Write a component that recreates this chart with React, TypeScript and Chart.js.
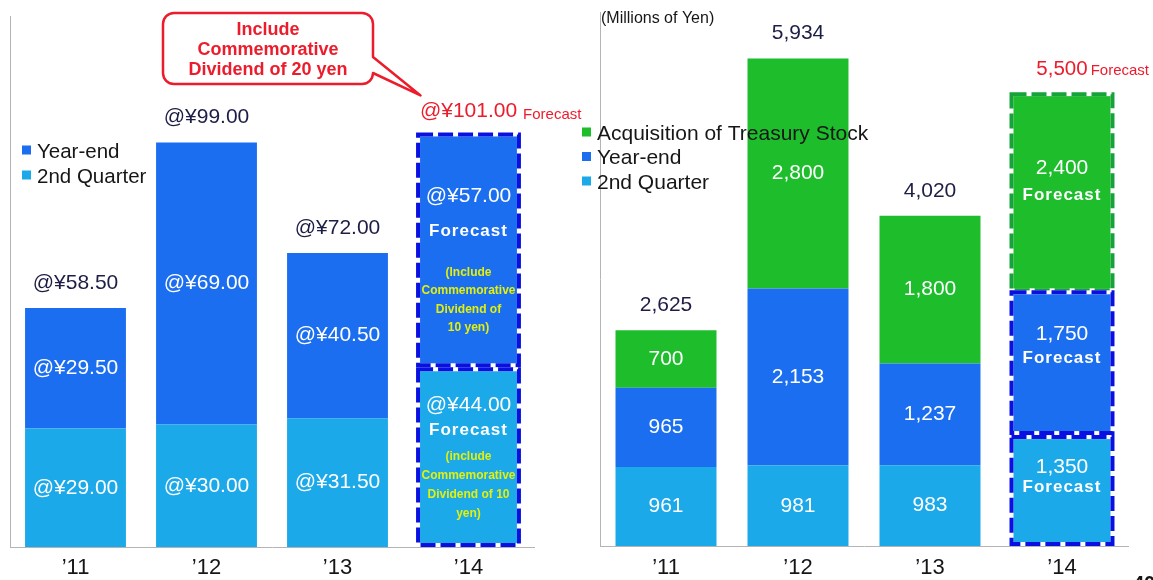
import { useEffect, useRef } from "react";
import { Chart, registerables } from "chart.js";

Chart.register(...registerables);

// ---- data -------------------------------------------------------------
const fiscalYears = ["\u201911", "\u201912", "\u201913", "\u201914"];

// Dividend per share (yen)
const dividendSecondQuarter = [29.0, 30.0, 31.5, 44.0];
const dividendYearEnd = [29.5, 69.0, 40.5, 57.0];

// Total shareholder return (millions of yen)
const returnSecondQuarter = [961, 981, 983, 1350];
const returnYearEnd = [965, 2153, 1237, 1750];
const returnTreasuryStock = [700, 2800, 1800, 2400];
const returnTotals = [2625, 5934, 4020, 5500];

const forecastIndex = 3;

const dividendLegend = ["Year-end", "2nd Quarter"];
const returnLegend = ["Acquisition of Treasury Stock", "Year-end", "2nd Quarter"];
const calloutLines = ["Include", "Commemorative", "Dividend of 20 yen"];
const yearEndNote = ["(Include", "Commemorative", "Dividend of", "10 yen)"];
const secondQuarterNote = ["(include", "Commemorative", "Dividend of 10", "yen)"];
const forecastWord = "Forecast";
const unitLabel = "(Millions of Yen)";
const pageNumber = "40";

// ---- styling ----------------------------------------------------------
const W = 1153;
const H = 580;
const BLUE = "#1b6ef0";
const LIGHT_BLUE = "#1ba9ea";
const GREEN = "#1dbd2c";
const DASH_BLUE = "#0a10e0";
const DASH_GREEN = "#15a33a";
const RED = "#ec1c2c";
const NAVY = "#1d1d45";
const INK = "#161616";
const YELLOW = "#e2f00c";
const AXIS = "#b4b4b4";
const FONT = "'Liberation Sans', Arial, Helvetica, sans-serif";

const font = (size: number, weight = "normal") => `${weight} ${size}px ${FONT}`;

function text(
  ctx: CanvasRenderingContext2D,
  s: string,
  x: number,
  y: number,
  f: string,
  color: string,
  align: CanvasTextAlign = "center",
  baseline: CanvasTextBaseline = "middle",
  spacing = "0px"
) {
  ctx.font = f;
  ctx.fillStyle = color;
  ctx.textAlign = align;
  ctx.textBaseline = baseline;
  (ctx as any).letterSpacing = spacing;
  ctx.fillText(s, x, y);
  (ctx as any).letterSpacing = "0px";
}

function dashedBox(
  ctx: CanvasRenderingContext2D,
  left: number,
  top: number,
  right: number,
  bottom: number,
  color: string
) {
  ctx.save();
  ctx.lineWidth = 4;
  ctx.setLineDash([]);
  ctx.strokeStyle = "#ffffff";
  ctx.strokeRect(left, top, right - left, bottom - top);
  ctx.setLineDash([15, 5]);
  ctx.strokeStyle = color;
  ctx.strokeRect(left, top, right - left, bottom - top);
  ctx.restore();
}

const yen = (v: number) => `@\u00a5${v.toFixed(2)}`;
const num = (v: number) => v.toLocaleString("en-US");

const barProps = (chart: any, ds: number) =>
  chart
    .getDatasetMeta(ds)
    .data.map((e: any) => e.getProps(["x", "y", "base", "width"], true));

function legendRow(
  ctx: CanvasRenderingContext2D,
  label: string,
  color: string,
  mx: number,
  cy: number,
  tx: number,
  size: number
) {
  ctx.fillStyle = color;
  ctx.fillRect(mx, cy - 4.5, 9, 9);
  text(ctx, label, tx, cy + 7.5, font(size), INK, "left", "alphabetic");
}

// ---- left chart decorations: labels, legend, forecast outline, callout ----
const dividendDecor = {
  id: "dividendDecor",
  afterDatasetsDraw(chart: any) {
    const ctx: CanvasRenderingContext2D = chart.ctx;
    const q = barProps(chart, 0);
    const ye = barProps(chart, 1);
    ctx.save();

    const fq = q[forecastIndex];
    const fy = ye[forecastIndex];
    dashedBox(ctx, fy.x - fy.width / 2, fy.y, fy.x + fy.width / 2, fy.base - 2, DASH_BLUE);
    dashedBox(ctx, fq.x - fq.width / 2, fq.y + 2, fq.x + fq.width / 2, fq.base - 2, DASH_BLUE);

    fiscalYears.forEach((c, i) => text(ctx, c, q[i].x, 568, font(22), INK));

    fiscalYears.forEach((_, i) => {
      const total = dividendSecondQuarter[i] + dividendYearEnd[i];
      if (i === forecastIndex) {
        text(ctx, yen(total), ye[i].x, ye[i].y - 23, font(21), RED);
        ctx.font = font(21);
        const half = ctx.measureText(yen(total)).width / 2;
        text(ctx, forecastWord, ye[i].x + half + 6, ye[i].y - 20, font(15), RED, "left");

        const t1 = ye[i].y;
        text(ctx, yen(dividendYearEnd[i]), ye[i].x, t1 + 62, font(21), "#ffffff");
        text(ctx, forecastWord, ye[i].x, t1 + 97, font(17, "bold"), "#ffffff", "center", "middle", "1px");
        yearEndNote.forEach((s, k) =>
          text(ctx, s, ye[i].x, t1 + 138 + k * 18.5, font(12, "bold"), YELLOW)
        );

        const t2 = q[i].y;
        text(ctx, yen(dividendSecondQuarter[i]), q[i].x, t2 + 38, font(21), "#ffffff");
        text(ctx, forecastWord, q[i].x, t2 + 63, font(17, "bold"), "#ffffff", "center", "middle", "1px");
        secondQuarterNote.forEach((s, k) =>
          text(ctx, s, q[i].x, t2 + 89 + k * 19, font(12, "bold"), YELLOW)
        );
      } else {
        text(ctx, yen(total), ye[i].x, ye[i].y - 25, font(21), NAVY);
        text(ctx, yen(dividendYearEnd[i]), ye[i].x, (ye[i].y + ye[i].base) / 2, font(21), "#ffffff");
        text(ctx, yen(dividendSecondQuarter[i]), q[i].x, (q[i].y + q[i].base) / 2, font(21), "#ffffff");
      }
    });

    legendRow(ctx, dividendLegend[0], BLUE, 22, 150, 37, 20.5);
    legendRow(ctx, dividendLegend[1], LIGHT_BLUE, 22, 175, 37, 20.5);

    // speech bubble pointing at the forecast total
    const L = 163, R = 373, T = 13, B = 84, r = 11;
    const tipX = fy.x - 48, tipY = fy.y - 39;
    ctx.beginPath();
    ctx.moveTo(L + r, T);
    ctx.lineTo(R - r, T);
    ctx.arcTo(R, T, R, T + r, r);
    ctx.lineTo(R, 57);
    ctx.lineTo(tipX, tipY);
    ctx.lineTo(R, 73);
    ctx.lineTo(R, B - r);
    ctx.arcTo(R, B, R - r, B, r);
    ctx.lineTo(L + r, B);
    ctx.arcTo(L, B, L, B - r, r);
    ctx.lineTo(L, T + r);
    ctx.arcTo(L, T, L + r, T, r);
    ctx.closePath();
    ctx.fillStyle = "#ffffff";
    ctx.fill();
    ctx.lineWidth = 2.5;
    ctx.strokeStyle = RED;
    ctx.lineJoin = "round";
    ctx.stroke();
    calloutLines.forEach((s, k) =>
      text(ctx, s, (L + R) / 2, 30 + k * 20, font(18, "bold"), RED)
    );

    ctx.restore();
  },
};

// ---- right chart decorations ---------------------------------------------
const returnDecor = {
  id: "returnDecor",
  afterDatasetsDraw(chart: any) {
    const ctx: CanvasRenderingContext2D = chart.ctx;
    const q = barProps(chart, 0);
    const ye = barProps(chart, 1);
    const ts = barProps(chart, 2);
    ctx.save();

    const i0 = forecastIndex;
    const edge = (p: any) => [p.x - p.width / 2, p.x + p.width / 2];
    const [gl, gr] = edge(ts[i0]);
    dashedBox(ctx, gl, ts[i0].y, gr, ts[i0].base - 1, DASH_GREEN);
    dashedBox(ctx, gl, ye[i0].y + 1, gr, ye[i0].base - 2, DASH_BLUE);
    dashedBox(ctx, gl, q[i0].y + 2, gr, q[i0].base - 2, DASH_BLUE);

    fiscalYears.forEach((c, i) => text(ctx, c, q[i].x, 568, font(22), INK));

    fiscalYears.forEach((_, i) => {
      if (i === forecastIndex) {
        const s = num(returnTotals[i]);
        text(ctx, s, ts[i].x, ts[i].y - 25, font(20.5), RED);
        ctx.font = font(20.5);
        const half = ctx.measureText(s).width / 2;
        text(ctx, forecastWord, ts[i].x + half + 3, ts[i].y - 23, font(15), RED, "left");

        text(ctx, num(returnTreasuryStock[i]), ts[i].x, ts[i].y + 74, font(21), "#ffffff");
        text(ctx, forecastWord, ts[i].x, ts[i].y + 101, font(17, "bold"), "#ffffff", "center", "middle", "1px");
        text(ctx, num(returnYearEnd[i]), ye[i].x, ye[i].y + 43, font(21), "#ffffff");
        text(ctx, forecastWord, ye[i].x, ye[i].y + 67, font(17, "bold"), "#ffffff", "center", "middle", "1px");
        text(ctx, num(returnSecondQuarter[i]), q[i].x, q[i].y + 32, font(21), "#ffffff");
        text(ctx, forecastWord, q[i].x, q[i].y + 52, font(17, "bold"), "#ffffff", "center", "middle", "1px");
      } else {
        text(ctx, num(returnTotals[i]), ts[i].x, ts[i].y - 25, font(21), NAVY);
        text(ctx, num(returnTreasuryStock[i]), ts[i].x, (ts[i].y + ts[i].base) / 2, font(21), "#ffffff");
        text(ctx, num(returnYearEnd[i]), ye[i].x, (ye[i].y + ye[i].base) / 2, font(21), "#ffffff");
        text(ctx, num(returnSecondQuarter[i]), q[i].x, (q[i].y + q[i].base) / 2, font(21), "#ffffff");
      }
    });

    text(ctx, unitLabel, 601, 19, font(16), INK, "left");

    legendRow(ctx, returnLegend[0], GREEN, 582, 132, 597, 21);
    legendRow(ctx, returnLegend[1], BLUE, 582, 156.5, 597, 21);
    legendRow(ctx, returnLegend[2], LIGHT_BLUE, 582, 181, 597, 21);

    text(ctx, pageNumber, 1133, 590, font(20, "bold"), INK, "left", "alphabetic");

    ctx.restore();
  },
};

function stackedOptions(padding: any, max: number) {
  return {
    responsive: false,
    animation: false as const,
    devicePixelRatio: 1,
    layout: { padding },
    plugins: { legend: { display: false }, tooltip: { enabled: false } },
    scales: {
      x: {
        stacked: true,
        grid: { display: false, drawTicks: false },
        ticks: { display: false },
        border: { display: true, color: AXIS, width: 1 },
        afterFit: (s: any) => {
          s.height = 0;
        },
      },
      y: {
        stacked: true,
        min: 0,
        max,
        grid: { display: false, drawTicks: false },
        ticks: { display: false },
        border: { display: true, color: AXIS, width: 1 },
        afterFit: (s: any) => {
          s.width = 0;
        },
      },
    },
  };
}

export default function App() {
  const leftRef = useRef<HTMLCanvasElement>(null);
  const rightRef = useRef<HTMLCanvasElement>(null);

  useEffect(() => {
    const barBase = { categoryPercentage: 1, borderWidth: 0 };

    const left = new Chart(leftRef.current!, {
      type: "bar",
      data: {
        labels: fiscalYears,
        datasets: [
          { ...barBase, barPercentage: 0.77, label: dividendLegend[1], data: dividendSecondQuarter, backgroundColor: LIGHT_BLUE },
          { ...barBase, barPercentage: 0.77, label: dividendLegend[0], data: dividendYearEnd, backgroundColor: BLUE },
        ],
      },
      options: stackedOptions({ left: 10, right: W - 534, top: 16, bottom: H - 547 }, 130) as any,
      plugins: [dividendDecor],
    });

    const right = new Chart(rightRef.current!, {
      type: "bar",
      data: {
        labels: fiscalYears,
        datasets: [
          { ...barBase, barPercentage: 0.765, label: returnLegend[2], data: returnSecondQuarter, backgroundColor: LIGHT_BLUE },
          { ...barBase, barPercentage: 0.765, label: returnLegend[1], data: returnYearEnd, backgroundColor: BLUE },
          { ...barBase, barPercentage: 0.765, label: returnLegend[0], data: returnTreasuryStock, backgroundColor: GREEN },
        ],
      },
      options: stackedOptions({ left: 600, right: W - 1128, top: 12, bottom: H - 546 }, 6500) as any,
      plugins: [returnDecor],
    });

    return () => {
      left.destroy();
      right.destroy();
    };
  }, []);

  const layer = { position: "absolute" as const, left: 0, top: 0, width: W, height: H };
  return (
    <div style={{ position: "fixed", left: 0, top: 0, width: W, height: H, background: "#ffffff", overflow: "hidden" }}>
      <canvas ref={leftRef} width={W} height={H} style={layer} />
      <canvas ref={rightRef} width={W} height={H} style={layer} />
    </div>
  );
}
